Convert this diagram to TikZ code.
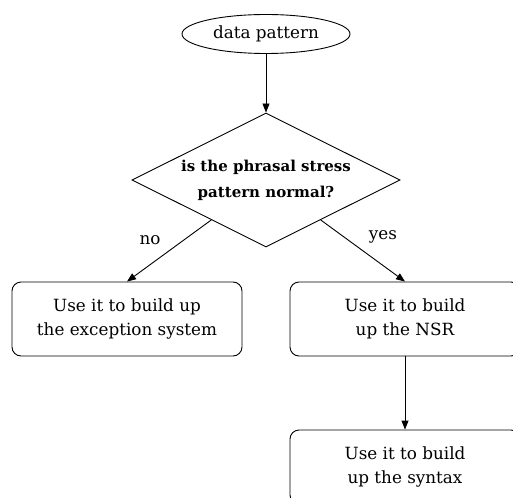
\documentclass[tikz,border=0pt]{standalone}
\usepackage{fontspec}
\setmainfont{DejaVu Serif}
\usetikzlibrary{shapes.geometric,arrows.meta}
\begin{document}
\begin{tikzpicture}[x=1pt,y=-1pt,
  every node/.style={font=\fontsize{16.8}{24}\selectfont},
  startnode/.style={draw,ellipse,inner sep=0pt,minimum width=168pt,minimum height=39pt,line width=0.9pt},
  decide/.style={draw,diamond,aspect=2,inner sep=0pt,minimum width=268pt,minimum height=134pt,align=center,line width=0.9pt,font=\fontsize{15}{26}\selectfont\bfseries},
  stepbox/.style={draw,rounded corners=9pt,minimum width=230pt,minimum height=74pt,align=center,inner sep=0pt,line width=0.9pt},
  conn/.style={line width=0.9pt,-{Triangle[length=9pt,width=7pt]}},
  lbl/.style={inner sep=0pt}]
\useasboundingbox (0,0) rectangle (513,497);
\node[startnode] (s) at (266,34) {data pattern};
\node[decide] (d) at (266,180) {is the phrasal stress\\pattern normal?};
\node[stepbox] (l) at (127,319) {Use it to build up\\the exception system};
\node[stepbox] (r) at (405,319) {Use it to build\\up the NSR};
\node[stepbox] (b) at (405,467) {Use it to build\\up the syntax};
\draw[conn] (s) -- (d);
\draw[conn] (d) -- (l.north);
\draw[conn] (d) -- (r.north);
\draw[conn] (r) -- (b);
\node[lbl] (no) at (150,240) {no};
\node[lbl] (yes) at (383,237) {yes};
\end{tikzpicture}
\end{document}
